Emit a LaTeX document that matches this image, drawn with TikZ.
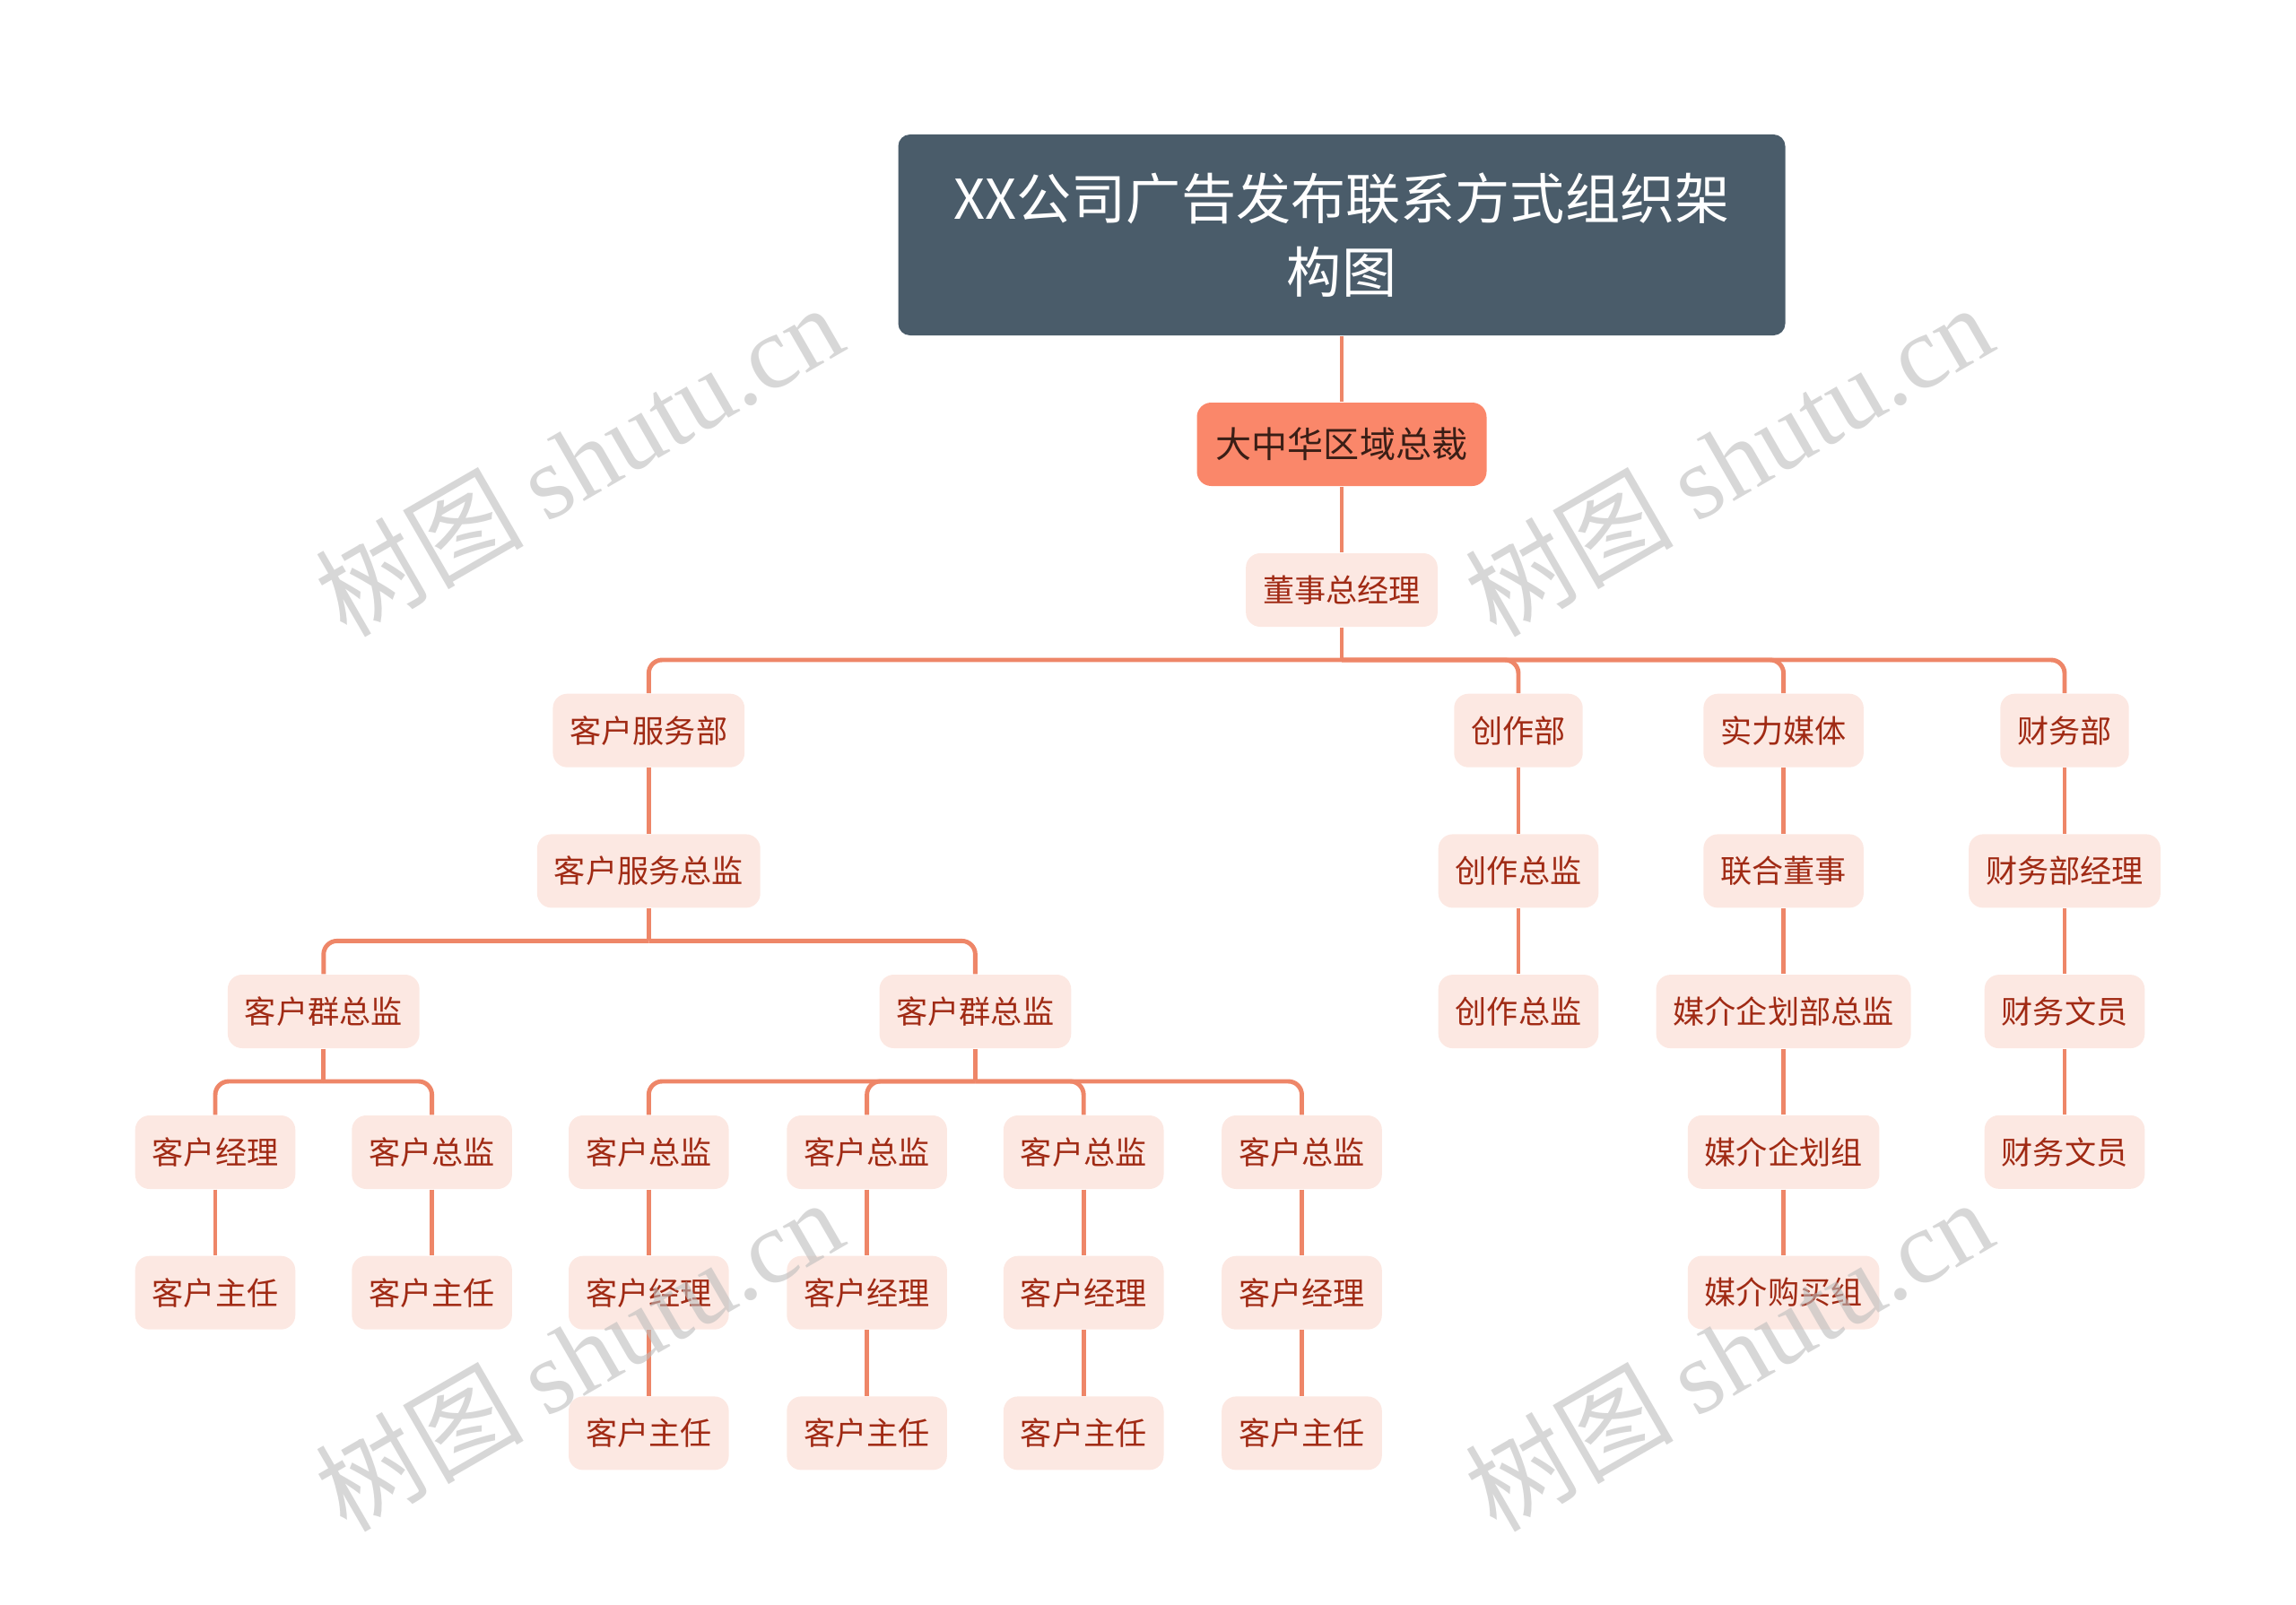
\documentclass[tikz,border=0pt]{standalone}
\usepackage{fontspec}
\setmainfont{Noto Sans CJK SC}
\newfontfamily\wmlatin{Liberation Serif}
\usepackage{tikz}
\usetikzlibrary{positioning,calc}
\definecolor{topicc}{HTML}{4A5C6A}
\definecolor{bossc}{HTML}{FA876A}
\definecolor{bosstxt}{HTML}{3A1E16}
\definecolor{blockc}{HTML}{FCE8E2}
\definecolor{blocktxt}{HTML}{A02A14}
\definecolor{linec}{HTML}{EE8668}
\definecolor{wmc}{HTML}{BDBDBD}
\tikzstyle{topic} = [rectangle, fill=topicc, text=white, rounded corners=1.3mm,
align=center, minimum width=9.89cm, minimum height=2.24cm, font=\fontsize{17.4}{23.2}\selectfont]
\tikzstyle{boss} = [rectangle, fill=bossc, text=bosstxt, rounded corners=1.6mm,
minimum width=3.23cm, minimum height=0.93cm, font=\fontsize{11.4}{13}\selectfont]
\tikzstyle{block} = [rectangle, fill=blockc, text=blocktxt, rounded corners=1.6mm,
inner xsep=0.19cm, minimum height=0.82cm, font=\fontsize{10}{12}\selectfont]
\tikzstyle{line} = [draw=linec, line width=1.4pt, rounded corners=1.5mm]
\tikzstyle{wmark} = [text=wmc, text opacity=0.6, rotate=30, font=\fontsize{33}{40}\selectfont]

\begin{document}
\begin{tikzpicture}[node distance = 1.567cm, auto]
			\useasboundingbox (0,0) rectangle (25.6,-17.9);
			\node [topic] (top) at (14.96,-2.62) {XX公司广告发布联系方式组织架\\构图};
			\node [boss] (boss) at (14.96,-4.955) {大中华区域总裁};
			\node [block] (gm) at (14.96,-6.58) {董事总经理};
			% departments
			\node [block] (serv) at (7.233,-8.147) {客户服务部};
			\node [block] (crea) at (16.93,-8.147) {创作部};
			\node [block] (media) at (19.886,-8.147) {实力媒体};
			\node [block] (fin) at (23.02,-8.147) {财务部};
			\node [block, below of=serv] (servD) {客户服务总监};
			\node [block, below of=crea] (creaA) {创作总监};
			\node [block, below of=creaA] (creaB) {创作总监};
			\node [block, below of=media] (mediaA) {联合董事};
			\node [block, below of=mediaA] (mediaB) {媒介企划部总监};
			\node [block, below of=mediaB] (mediaC) {媒介企划组};
			\node [block, below of=mediaC] (mediaD) {媒介购买组};
			\node [block, below of=fin] (finA) {财务部经理};
			\node [block, below of=finA] (finB) {财务文员};
			\node [block, below of=finB] (finC) {财务文员};
			% client groups
			\node [block] (grpA) at (3.608,-11.28) {客户群总监};
			\node [block] (grpB) at (10.874,-11.28) {客户群总监};
			\node [block] (a1) at (2.40,-12.85) {客户经理};
			\node [block] (a2) at (4.816,-12.85) {客户总监};
			\node [block, below of=a1] (as1) {客户主任};
			\node [block, below of=a2] (as2) {客户主任};
			\foreach \i/\x in {1/7.233, 2/9.666, 3/12.082, 4/14.515} {
				\node [block] (b\i) at (\x,-12.85) {客户总监};
				\node [block, below of=b\i] (bm\i) {客户经理};
				\node [block, below of=bm\i] (bs\i) {客户主任};
			}
			% connectors
			\coordinate (j1) at ($(gm)+(0,-0.78)$);
			\coordinate (j2) at ($(servD)+(0,-0.78)$);
			\coordinate (j3) at ($(grpA)+(0,-0.78)$);
			\coordinate (j4) at ($(grpB)+(0,-0.78)$);
			\path [line] (top) -- (boss);
			\path [line] (boss) -- (gm);
			\path [line] (gm) -- (j1);
			\foreach \n in {serv,crea,media,fin} \path [line] (j1) -| (\n);
			\path [line] (serv) -- (servD);
			\path [line] (servD) -- (j2);
			\foreach \n in {grpA,grpB} \path [line] (j2) -| (\n);
			\path [line] (grpA) -- (j3);
			\foreach \n in {a1,a2} \path [line] (j3) -| (\n);
			\path [line] (a1) -- (as1);
			\path [line] (a2) -- (as2);
			\path [line] (grpB) -- (j4);
			\foreach \i in {1,...,4} {
				\path [line] (j4) -| (b\i);
				\path [line] (b\i) -- (bm\i);
				\path [line] (bm\i) -- (bs\i);
			}
			\path [line] (crea) -- (creaA);
			\path [line] (creaA) -- (creaB);
			\path [line] (media) -- (mediaA);
			\path [line] (mediaA) -- (mediaB);
			\path [line] (mediaB) -- (mediaC);
			\path [line] (mediaC) -- (mediaD);
			\path [line] (fin) -- (finA);
			\path [line] (finA) -- (finB);
			\path [line] (finB) -- (finC);
			% watermarks
			\node [wmark] (wm1) at (6.45,-5.12) {树图 {\wmlatin shutu.cn}};
			\node [wmark] (wm2) at (19.27,-5.12) {树图 {\wmlatin shutu.cn}};
			\node [wmark] (wm3) at (6.45,-15.10) {树图 {\wmlatin shutu.cn}};
			\node [wmark] (wm4) at (19.27,-15.10) {树图 {\wmlatin shutu.cn}};
\end{tikzpicture}
\end{document}
